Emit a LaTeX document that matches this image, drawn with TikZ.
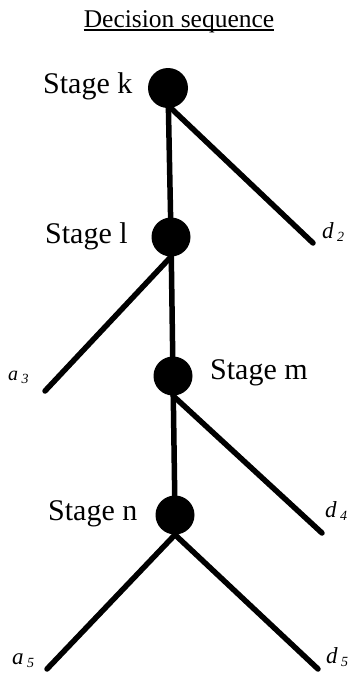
\documentclass[tikz,border=0pt]{standalone}
\usepackage{fontspec}
\setmainfont{Liberation Serif}
\usetikzlibrary{backgrounds}
\newcommand{\leaf}[2]{#1\hspace{3.5pt}\raisebox{-3pt}{\fontsize{14}{14}\selectfont #2}}
\begin{document}
\begin{tikzpicture}[x=1pt,y=-1pt,
  stagedot/.style={circle,fill=black,inner sep=0pt,minimum size=39pt},
  branch/.style={line width=5.5pt,line cap=round},
  stagelabel/.style={anchor=base west,inner sep=0pt,font=\fontsize{30}{30}\selectfont},
  leaflabel/.style={anchor=base west,inner sep=0pt,font=\fontsize{23}{23}\selectfont\itshape}]
\useasboundingbox (0,0) rectangle (350,673);
% title
\node[anchor=base,inner sep=0pt,font=\fontsize{25.5}{26}\selectfont] (title) at (179,27) {Decision sequence};
\draw[line width=1.2pt] ([yshift=-3pt]title.base west) -- ([yshift=-3pt]title.base east);
% stage nodes
\node[stagedot,minimum size=40pt] (k) at (168,88) {};
\node[stagedot] (l) at (171,237) {};
\node[stagedot] (m) at (173,376) {};
\node[stagedot] (n) at (175,515) {};
% free ends
\coordinate (d2e) at (313,243);
\coordinate (a3e) at (45,391);
\coordinate (d4e) at (322,533);
\coordinate (a5e) at (47,669);
\coordinate (d5e) at (318,669);
% branches
\begin{scope}[on background layer]
\draw[branch] (k.center) -- (l.center) -- (m.center) -- (n.center);
\draw[branch] ([xshift=3pt]k.south) -- (d2e);
\draw[branch] (l.south) -- (a3e);
\draw[branch] (m.south) -- (d4e);
\draw[branch] (n.south) -- (a5e);
\draw[branch] (n.south) -- (d5e);
\end{scope}
% stage labels
\node[stagelabel] (lk) at (43,93) {Stage k};
\node[stagelabel] (ll) at (45,243) {Stage l};
\node[stagelabel] (lm) at (210,379) {Stage m};
\node[stagelabel] (ln) at (48,520) {Stage n};
% leaf labels
\node[leaflabel] (d2) at (322,238) {\leaf{d}{2}};
\node[leaflabel,font=\fontsize{20}{20}\selectfont\itshape] (a3) at (8,380) {\leaf{a}{3}};
\node[leaflabel] (d4) at (325,517) {\leaf{d}{4}};
\node[leaflabel] (a5) at (12,664) {\leaf{a}{5}};
\node[leaflabel] (d5) at (326,663) {\leaf{d}{5}};
\end{tikzpicture}
\end{document}
